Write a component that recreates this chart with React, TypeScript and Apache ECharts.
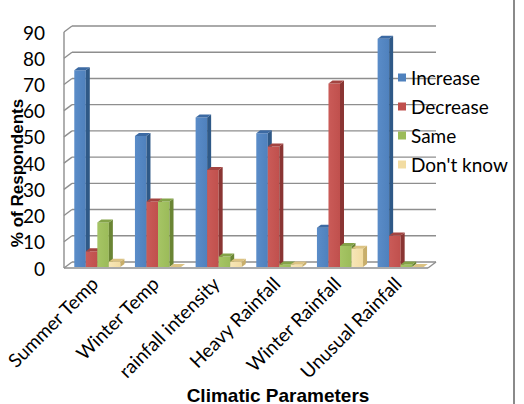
import React, { useEffect, useRef } from "react";
import * as echarts from "echarts";

const categories = ["Summer Temp", "Winter Temp", "rainfall intensity", "Heavy Rainfall", "Winter Rainfall", "Unusual Rainfall"];
const increase = [75, 50, 57, 51, 15, 87];
const decrease = [6, 25, 37, 46, 70, 12];
const same = [17, 25, 4, 1, 8, 1];
const dontKnow = [2, 0, 2, 1, 7, 0];
const seriesNames = ["Increase", "Decrease", "Same", "Don't know"];
const yTicks = [0, 10, 20, 30, 40, 50, 60, 70, 80, 90];

const palette = [
  { front: "#4F81BD", frontLight: "#5A8CC8", side: "#2F5987", top: "#3C6AA3" },
  { front: "#C0504D", frontLight: "#CA5B58", side: "#8A3533", top: "#A34441" },
  { front: "#9BBB59", frontLight: "#A6C565", side: "#6A8534", top: "#84A348" },
  { front: "#F2DCA2", frontLight: "#F7E6B8", side: "#C8AE6A", top: "#DCC383" },
];

const WALL_DX = 8;
const WALL_DY = -6;
const BAR_DX = 4;
const BAR_DY = -3;
const SHIFT_X = 3;
const SHIFT_Y = -1;
const GRID_COLOR = "#8E8E8E";

export default function App() {
  const ref = useRef<HTMLDivElement>(null);
  useEffect(() => {
    if (!ref.current) return;
    const chart = echarts.init(ref.current, null, { renderer: "svg" });
    const allValues = [increase, decrease, same, dontKnow];

    const barSeries = allValues.map((vals, k) => ({
      type: "custom",
      name: seriesNames[k],
      itemStyle: { color: palette[k].front },
      encode: { x: 0, y: 1 },
      z: 3,
      data: vals.map((v, i) => [i, v]),
      renderItem: (params: any, api: any) => {
        const ci = api.value(0);
        const v = api.value(1);
        const base = api.coord([ci, 0]);
        const top = api.coord([ci, v]);
        const cw = api.size([1, 0])[0];
        const bw = cw * 0.19;
        const x0 = base[0] - 2 * bw + k * bw + SHIFT_X;
        const yb = base[1] + SHIFT_Y;
        const yt = top[1] + SHIFT_Y;
        const c = palette[k];
        const children: any[] = [];
        if (yb - yt > 0.5) {
          children.push({
            type: "rect",
            shape: { x: x0, y: yt, width: bw, height: yb - yt },
            style: {
              fill: new echarts.graphic.LinearGradient(0, 0, 1, 0, [
                { offset: 0, color: c.frontLight },
                { offset: 1, color: c.front },
              ]),
            },
          });
          children.push({
            type: "polygon",
            shape: {
              points: [
                [x0 + bw, yt],
                [x0 + bw + BAR_DX, yt + BAR_DY],
                [x0 + bw + BAR_DX, yb + BAR_DY],
                [x0 + bw, yb],
              ],
            },
            style: { fill: c.side },
          });
        }
        children.push({
          type: "polygon",
          shape: {
            points: [
              [x0, yt],
              [x0 + BAR_DX, yt + BAR_DY],
              [x0 + bw + BAR_DX, yt + BAR_DY],
              [x0 + bw, yt],
            ],
          },
          style: { fill: c.top },
        });
        return { type: "group", children };
      },
    }));

    const wallSeries = {
      type: "custom",
      name: "walls",
      silent: true,
      z: 1,
      encode: { x: 0, y: 1 },
      data: yTicks.map((t) => [0, t]),
      renderItem: (params: any, api: any) => {
        const cs = params.coordSys;
        const v = api.value(1);
        const y = api.coord([0, v])[1];
        const lineStyle = { stroke: GRID_COLOR, lineWidth: 1.4, fill: null };
        const children: any[] = [];
        children.push({
          type: "line",
          shape: { x1: cs.x, y1: y, x2: cs.x + WALL_DX, y2: y + WALL_DY },
          style: lineStyle,
        });
        children.push({
          type: "line",
          shape: { x1: cs.x + WALL_DX, y1: y + WALL_DY, x2: cs.x + cs.width + WALL_DX, y2: y + WALL_DY },
          style: lineStyle,
        });
        if (v === 0) {
          children.push({
            type: "line",
            shape: { x1: cs.x, y1: y, x2: cs.x + cs.width, y2: y },
            style: lineStyle,
          });
          children.push({
            type: "line",
            shape: { x1: cs.x + cs.width, y1: y, x2: cs.x + cs.width + WALL_DX, y2: y + WALL_DY },
            style: lineStyle,
          });
          children.push({
            type: "line",
            shape: { x1: cs.x, y1: y, x2: cs.x, y2: cs.y },
            style: lineStyle,
          });
        }
        return { type: "group", children };
      },
    };

    chart.setOption({
      animation: false,
      backgroundColor: "#ffffff",
      grid: { left: 64, right: 96, top: 32, bottom: 136 },
      xAxis: {
        type: "category",
        data: categories,
        axisLine: { show: false },
        axisTick: { show: false },
        axisLabel: {
          rotate: 45,
          interval: 0,
          margin: 12,
          color: "#000",
          fontFamily: "Lato",
          fontSize: 19,
        },
      },
      yAxis: {
        type: "value",
        min: 0,
        max: 90,
        interval: 10,
        axisLine: { show: false },
        axisTick: { show: false },
        splitLine: { show: false },
        axisLabel: {
          margin: 19,
          color: "#000",
          fontFamily: "Lato",
          fontSize: 19,
        },
      },
      legend: {
        data: seriesNames,
        orient: "vertical",
        left: 398,
        top: 67,
        padding: 0,
        itemWidth: 8,
        itemHeight: 8,
        itemGap: 8,
        icon: "rect",
        textStyle: { fontFamily: "Lato", fontSize: 19, color: "#000", lineHeight: 21 },
      },
      graphic: [
        {
          type: "text",
          x: 17,
          y: 173,
          rotation: Math.PI / 2,
          style: {
            text: "% of Respondents",
            font: "bold 17px 'Liberation Sans', Arial, sans-serif",
            fill: "#000",
            align: "center",
            verticalAlign: "middle",
          },
        },
        {
          type: "text",
          x: 278,
          y: 395,
          style: {
            text: "Climatic Parameters",
            font: "bold 19px 'Liberation Sans', Arial, sans-serif",
            fill: "#000",
            align: "center",
            verticalAlign: "middle",
          },
        },
        {
          type: "rect",
          shape: { x: 513, y: 0, width: 2, height: 404 },
          style: { fill: "#8A8A8A" },
        },
      ],
      series: [wallSeries, ...barSeries],
    });
    return () => chart.dispose();
  }, []);
  return <div ref={ref} style={{ position: "absolute", left: 0, top: 0, width: 524, height: 404 }} />;
}
